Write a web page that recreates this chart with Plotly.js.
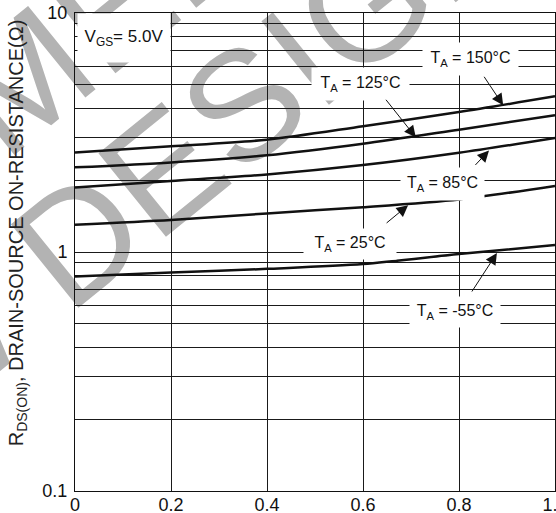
<!DOCTYPE html>
<html>
<head>
<meta charset="utf-8">
<script src="https://cdn.plot.ly/plotly-3.0.1.min.js"></script>
<style>
html,body{margin:0;padding:0;background:#fff;}
#chart{width:556px;height:513px;}
</style>
</head>
<body>
<div id="chart"></div>
<script>
// Drain current / x values (A) sampled along the curves
const xVals = [0, 0.2, 0.4, 0.6, 0.8, 1.0];
// R_DS(ON) (ohm) for each ambient temperature
const r150 = [2.61, 2.77, 2.95, 3.36, 3.85, 4.48];
const r125 = [2.26, 2.37, 2.54, 2.84, 3.25, 3.73];
const r85  = [1.86, 1.98, 2.11, 2.31, 2.60, 3.00];
const r25  = [1.30, 1.36, 1.45, 1.54, 1.66, 1.89];
const rm55 = [0.79, 0.82, 0.85, 0.89, 0.98, 1.07];
const seriesNames = ['T_A = 150°C', 'T_A = 125°C', 'T_A = 85°C', 'T_A = 25°C', 'T_A = -55°C'];
const seriesVals = [r150, r125, r85, r25, rm55];

const xTickVals = [0, 0.2, 0.4, 0.6, 0.8, 1.0];
const xTickText = ['0', '0.2', '0.4', '0.6', '0.8', '1.0'];
const yTickVals = [0.1, 1, 10];
const yTickText = ['0.1', '1', '10'];
const yMinorVals = [0.2, 0.3, 0.4, 0.5, 0.6, 0.7, 0.8, 0.9, 2, 3, 4, 5, 6, 7, 8, 9];

const FONT = 'Liberation Sans, Arial, sans-serif';

const traces = seriesVals.map((vals, i) => ({
  x: xVals, y: vals, type: 'scatter', mode: 'lines', name: seriesNames[i],
  line: {color: '#111', width: 2.5, shape: 'spline', smoothing: 0.8},
  hoverinfo: 'skip', showlegend: false
}));

const labelFont = {family: FONT, size: 16, color: '#111'};
function label(text, x, y, w, h) {
  return {text: text, xref: 'paper', yref: 'paper', x: x, y: y, xanchor: 'center', yanchor: 'middle',
    showarrow: false, bgcolor: '#fff', borderpad: 4, width: w, height: h, font: labelFont,
    align: 'center', valign: 'middle'};
}
function arrow(x, yv, ax, ay) {
  return {text: '', x: x, y: Math.log10(yv), xref: 'x', yref: 'y', showarrow: true,
    ax: ax, ay: ay, arrowhead: 2, arrowsize: 2.3, arrowwidth: 1, arrowcolor: '#111'};
}

const annotations = [
  {text: 'V<sub>GS</sub>= 5.0V', xref: 'paper', yref: 'paper', x: 0.102, y: 0.948,
   xanchor: 'center', yanchor: 'middle', showarrow: false,
   bgcolor: '#fff', borderpad: 4, width: 84, height: 40, font: {family: FONT, size: 17, color: '#111'}},
  label('T<sub>A</sub> = 150°C', 0.823, 0.904, 87, 24),
  label('T<sub>A</sub> = 125°C', 0.594, 0.851, 89, 24),
  label('T<sub>A</sub> = 85°C', 0.765, 0.642, 75, 24),
  label('T<sub>A</sub> = 25°C', 0.573, 0.517, 84, 22),
  label('T<sub>A</sub> = -55°C', 0.792, 0.374, 82, 22),
  arrow(0.892, 4.11, -20, -30),
  arrow(0.710, 3.02, -31, -39),
  arrow(0.8625, 2.66, -15, 16),
  arrow(0.694, 1.57, -23, 19),
  arrow(0.879, 0.99, -26, 40),
  {text: 'R<sub>DS(ON)</sub>, DRAIN-SOURCE ON-RESISTANCE(Ω)', xref: 'paper', yref: 'paper',
   x: -0.12, y: 0.54, xanchor: 'center', yanchor: 'middle', textangle: -90, showarrow: false,
   font: {family: FONT, size: 20, color: '#222'}}
];

const wmFont = {family: FONT, size: 156, color: '#b3b3b3'};
function wm(text, cx, cy) {
  return {type: 'rect', xref: 'paper', yref: 'paper', x0: cx - 0.005, x1: cx + 0.005, y0: cy - 0.005, y1: cy + 0.005,
    line: {width: 0}, fillcolor: 'rgba(0,0,0,0)', layer: 'below',
    label: {text: text, font: wmFont, textangle: -39, textposition: 'middle center'}};
}

const gridStyle = {gridcolor: '#1a1a1a', gridwidth: 1};
const layout = {
  width: 556, height: 513,
  margin: {l: 75, r: 1, t: 13, b: 22, pad: 0},
  paper_bgcolor: '#fff', plot_bgcolor: 'rgba(0,0,0,0)',
  showlegend: false,
  font: {family: FONT, color: '#111'},
  xaxis: Object.assign({range: [0, 1.0], tickmode: 'array', tickvals: xTickVals, ticktext: xTickText,
    showgrid: true, zeroline: false, ticklabeloverflow: 'allow', ticklabelstandoff: -3,
    showline: true, mirror: true, linecolor: '#111', linewidth: 1, ticks: '',
    tickfont: {family: FONT, size: 18, color: '#111'}, fixedrange: true}, gridStyle),
  yaxis: Object.assign({type: 'log', range: [-1, 1], tickmode: 'array', tickvals: yTickVals, ticktext: yTickText,
    showgrid: true, zeroline: false, ticklabeloverflow: 'allow',
    minor: {tickmode: 'array', tickvals: yMinorVals, showgrid: true, gridcolor: '#1a1a1a', gridwidth: 1, ticks: ''},
    showline: true, mirror: true, linecolor: '#111', linewidth: 1, ticks: '', ticklabelstandoff: 3,
    tickfont: {family: FONT, size: 18, color: '#111'}, fixedrange: true}, gridStyle),
  annotations: annotations,
  shapes: [
    wm('NEW DESIGN', 0.0506, 0.6046),
    wm('NOT RECOMMENDED FOR', -0.158, 0.863)
  ]
};

Plotly.newPlot('chart', traces, layout, {displayModeBar: false, staticPlot: true});
</script>
</body>
</html>
